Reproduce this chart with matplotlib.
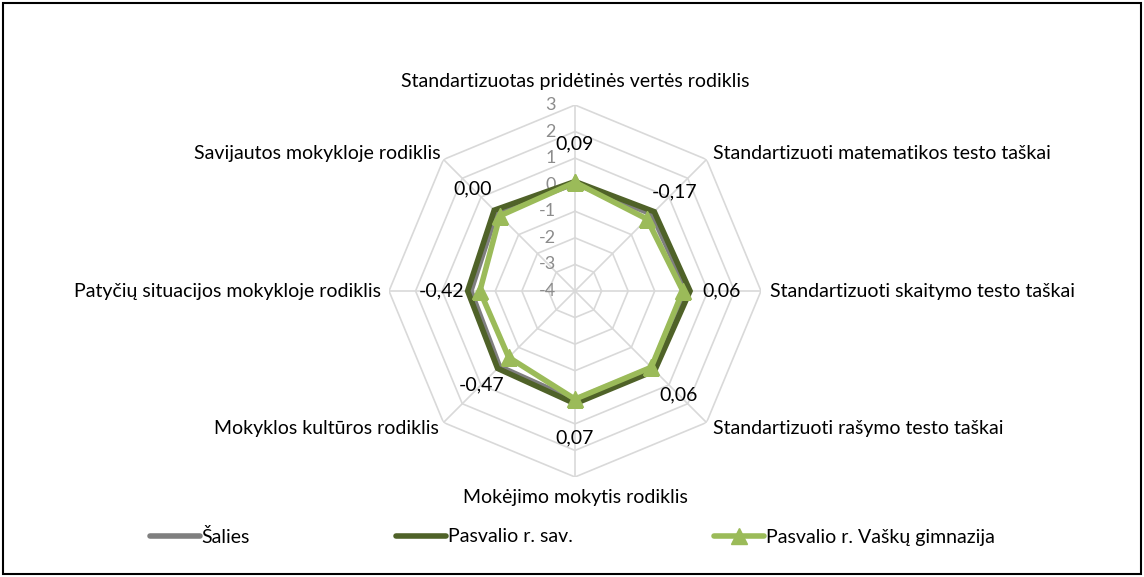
import numpy as np
import matplotlib
matplotlib.use("Agg")
import matplotlib.pyplot as plt
from matplotlib.lines import Line2D
from matplotlib.patches import Rectangle

plt.rcParams['font.family'] = ['Lato', 'DejaVu Sans']

categories = [
    "Standartizuotas pridėtinės vertės rodiklis",
    "Standartizuoti matematikos testo taškai",
    "Standartizuoti skaitymo testo taškai",
    "Standartizuoti rašymo testo taškai",
    "Mokėjimo mokytis rodiklis",
    "Mokyklos kultūros rodiklis",
    "Patyčių situacijos mokykloje rodiklis",
    "Savijautos mokykloje rodiklis",
]
series_names = ["Šalies", "Pasvalio r. sav.", "Pasvalio r. Vaškų gimnazija"]
salies = [0.05, 0.10, 0.22, 0.15, 0.12, 0.02, -0.08, 0.18]
pasvalio = [0.12, 0.22, 0.33, 0.24, 0.24, 0.12, 0.04, 0.30]
gimnazija = [0.09, -0.17, 0.06, 0.06, 0.07, -0.47, -0.42, 0.00]
gim_labels = ["0,09", "-0,17", "0,06", "0,06", "0,07", "-0,47", "-0,42", "0,00"]
ring_values = [-4, -3, -2, -1, 0, 1, 2, 3]

W, H = 1144, 577
fig = plt.figure(figsize=(W / 100, H / 100), dpi=100)
cx, cy, R = 575, 291, 186
ax = fig.add_axes([(cx - R) / W, (H - cy - R) / H, 2 * R / W, 2 * R / H], projection='polar')
ax.set_theta_offset(np.pi / 2)
ax.set_theta_direction(-1)
ax.set_ylim(ring_values[0], ring_values[-1])
ax.grid(False)
ax.set_xticks([])
ax.set_yticks([])
ax.spines['polar'].set_visible(False)
ax.patch.set_alpha(0)

n = len(categories)
theta = np.linspace(0, 2 * np.pi, n, endpoint=False)
theta_c = np.append(theta, theta[0])

gridc = '#d9d9d9'
for rv in ring_values:
    ax.plot(theta_c, [rv] * (n + 1), color=gridc, lw=1.2, zorder=1)
for t in theta:
    ax.plot([t, t], [ring_values[0], ring_values[-1]], color=gridc, lw=1.2, zorder=1)

for rv in ring_values:
    ax.annotate(str(rv), xy=(0, rv), xytext=(-19, 0), textcoords='offset pixels',
                ha='right', va='center', fontsize=13, color='#8c8c8c', zorder=2)

def closed(v):
    return list(v) + [v[0]]

ax.plot(theta_c, closed(salies), color='#7f7f7f', lw=4, zorder=3, solid_joinstyle='miter')
ax.plot(theta_c, closed(pasvalio), color='#4f6228', lw=4, zorder=4, solid_joinstyle='miter')
ax.plot(theta_c, closed(gimnazija), color='#9bbb59', lw=4, zorder=5, marker='^',
        markersize=11, solid_joinstyle='miter')

# data labels
for t, v, s in zip(theta, gimnazija, gim_labels):
    ax.text(t, v + 1.45, s, ha='center', va='center', fontsize=14, color='#000000', zorder=6)

# category labels
offsets = [(0, 23, 'center', 'center'), (6, 6, 'left', 'center'), (9, 0, 'left', 'center'),
           (6, -6, 'left', 'center'), (0, -20, 'center', 'center'), (-5, -6, 'right', 'center'),
           (-8, 0, 'right', 'center'), (-3, 6, 'right', 'center')]
for t, c, (dx, dy, ha, va) in zip(theta, categories, offsets):
    ax.annotate(c, xy=(t, ring_values[-1]), xytext=(dx, dy), textcoords='offset pixels',
                ha=ha, va=va, fontsize=14, color='#000000', annotation_clip=False)

# legend
handles = [
    Line2D([], [], color='#7f7f7f', lw=4, solid_capstyle='round'),
    Line2D([], [], color='#4f6228', lw=4, solid_capstyle='round'),
    Line2D([], [], color='#9bbb59', lw=4, marker='^', markersize=11, solid_capstyle='round'),
]
legend_x = [150, 396, 714]
for h, name, lx in zip(handles, series_names, legend_x):
    fig.legend([h], [name], loc='center left', bbox_to_anchor=(lx / W, 1 - 537 / H),
               frameon=False, fontsize=14, handlelength=2.55, handletextpad=0.1,
               borderpad=0, borderaxespad=0)

fig.add_artist(Rectangle((3 / W, 3 / H), (W - 6) / W, (H - 6) / H, transform=fig.transFigure,
                         fill=False, edgecolor='black', lw=1.5))

fig.savefig('out.png', dpi=100)
